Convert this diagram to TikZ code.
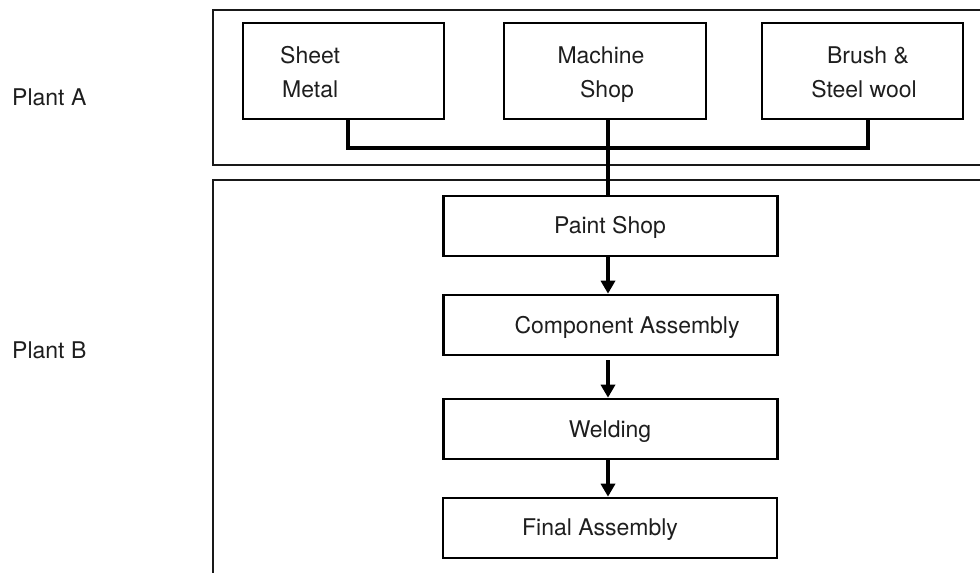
\documentclass[tikz,border=0pt]{standalone}
\usepackage{fontspec}
\setmainfont{TeX Gyre Heros}
\usetikzlibrary{arrows.meta}
\definecolor{txt}{HTML}{1E1E1E}
\tikzset{
  x=1pt, y=-1pt,
  frame/.style={line width=2pt, draw=black!90},
  shopbox/.style={draw=black, line width=2.6pt, rectangle, inner sep=0pt},
  lbl/.style={font=\fontsize{23}{34}\selectfont, text=txt, inner sep=0pt, anchor=base},
  link/.style={line width=3.6pt, draw=black},
  flow/.style={line width=3.6pt, draw=black, -{Triangle[width=14pt,length=13pt]}}
}
\begin{document}
\begin{tikzpicture}
\useasboundingbox (0,0) rectangle (980,573);
% plant frames
\draw[frame] (990,10) -- (213,10) -- (213,165) -- (990,165);
\draw[frame] (990,180) -- (213,180) -- (213,590);
% plant labels
\node[lbl, anchor=base west] (pa) at (12,105) {Plant A};
\node[lbl, anchor=base west] (pb) at (12,358) {Plant B};
% plant A shops
\node[shopbox, minimum width=201, minimum height=96] (sheet) at (343.5,71) {};
\node[shopbox, minimum width=202, minimum height=96] (mach) at (605,71) {};
\node[shopbox, minimum width=201, minimum height=96] (brush) at (862.5,71) {};
\node[lbl, anchor=base west] (tsheet1) at (280,63) {Sheet};
\node[lbl, anchor=base west] (tsheet2) at (282,97) {Metal};
\node[lbl] (tmach1) at (601,63) {Machine};
\node[lbl] (tmach2) at (607,97) {Shop};
\node[lbl] (tbrush1) at (868,63) {Brush \&};
\node[lbl] (tbrush2) at (864,97) {Steel wool};
% plant B shops
\node[shopbox, minimum width=334, minimum height=60] (paint) at (610.5,226) {};
\node[shopbox, minimum width=334, minimum height=60] (comp) at (610.5,325) {};
\node[shopbox, minimum width=334, minimum height=60] (weld) at (610.5,429) {};
\node[shopbox, minimum width=334, minimum height=60] (final) at (610,528) {};
\node[lbl] (tpaint) at (610,233) {Paint Shop};
\node[lbl] (tcomp) at (627,333) {Component Assembly};
\node[lbl] (tweld) at (610,437) {Welding};
\node[lbl] (tfinal) at (600,535) {Final Assembly};
% collector
\coordinate (bus) at (608,148);
\draw[link] (sheet.south -| 348,0) |- (bus);
\draw[link] (brush.south -| 868,0) |- (bus);
\draw[link] (mach.south -| bus) -- (paint.north -| bus);
% flow arrows
\draw[flow] (paint.south -| bus) -- (comp.north -| bus);
\draw[flow, shorten <=4pt] (comp.south -| bus) -- (weld.north -| bus);
\draw[flow] (weld.south -| bus) -- (final.north -| bus);
\end{tikzpicture}
\end{document}
